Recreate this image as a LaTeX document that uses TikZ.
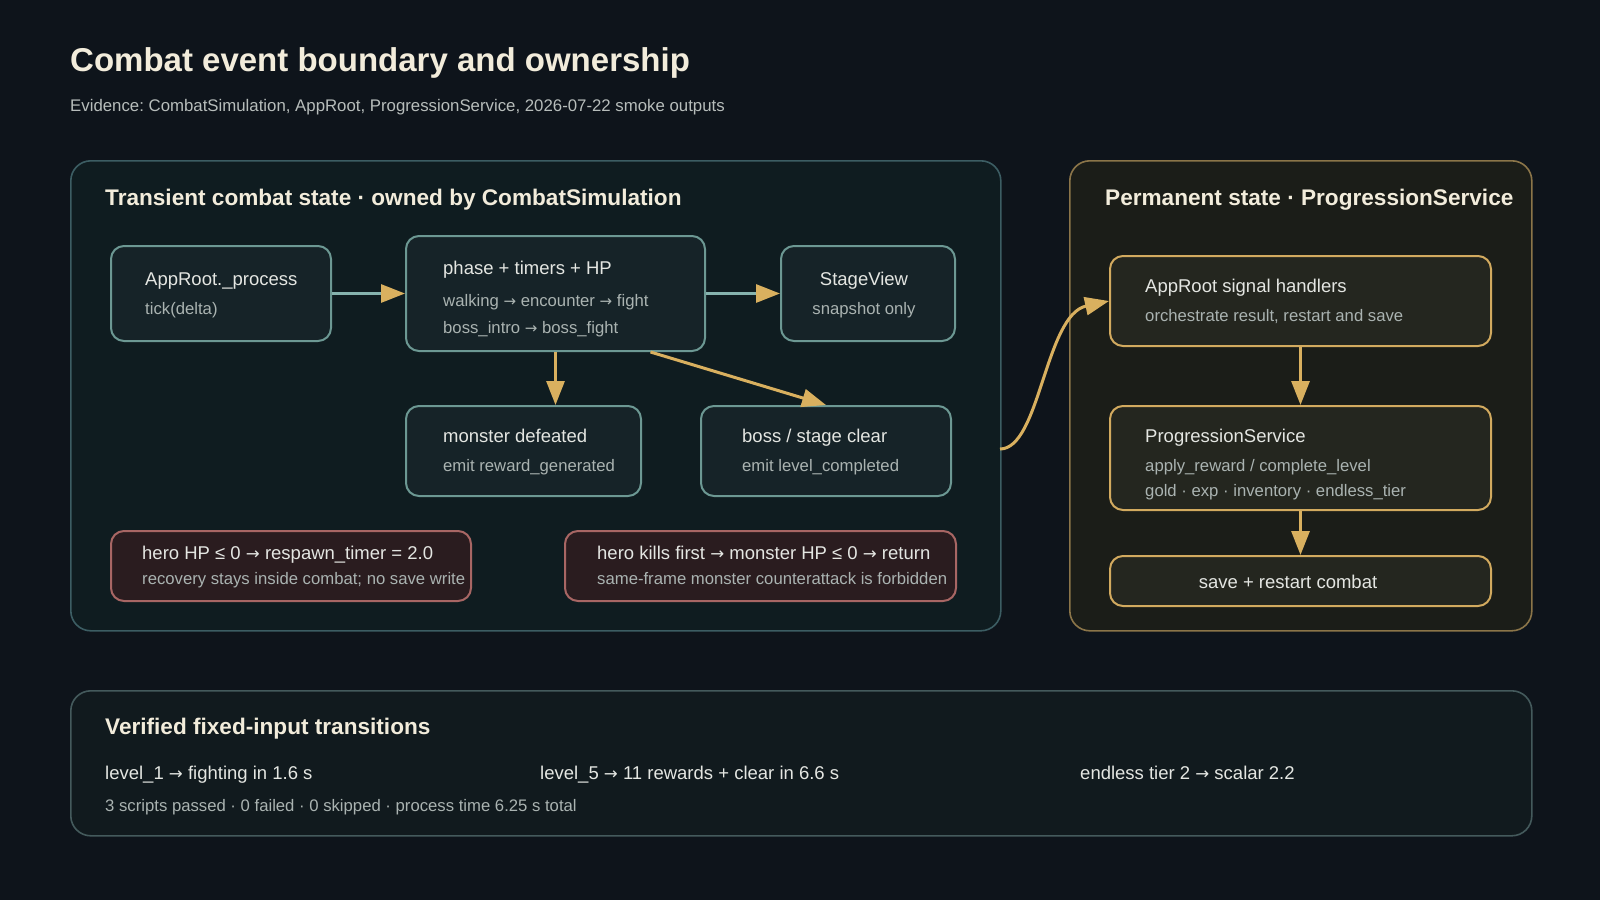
\documentclass[tikz,border=0pt]{standalone}
\usepackage{fontspec}
\setmainfont{Liberation Sans}
\newfontfamily\symf{DejaVu Sans}[Scale=0.9]
\newcommand{\ra}{{\symf →}}
\frenchspacing
\usetikzlibrary{arrows.meta,calc}
\definecolor{bg}{HTML}{0E141B}
\definecolor{lpfill}{HTML}{0F1C20}
\definecolor{lpdraw}{HTML}{3C5D63}
\definecolor{nfill}{HTML}{162328}
\definecolor{ndraw}{HTML}{6C9893}
\definecolor{teal}{HTML}{86B3AE}
\definecolor{gold}{HTML}{D9B05F}
\definecolor{rpfill}{HTML}{1B1D18}
\definecolor{rpdraw}{HTML}{8B7549}
\definecolor{rnfill}{HTML}{24261F}
\definecolor{rndraw}{HTML}{D2AA5F}
\definecolor{redfill}{HTML}{2A1C1F}
\definecolor{reddraw}{HTML}{A86664}
\definecolor{bpfill}{HTML}{111A1E}
\definecolor{bpdraw}{HTML}{445A5C}
\definecolor{cream}{HTML}{F2ECDB}
\definecolor{ntext}{HTML}{E4E6E2}
\definecolor{stext}{HTML}{AAB3B1}
\definecolor{subt}{HTML}{B7BDBB}
\begin{document}
\begin{tikzpicture}[x=1pt,y=-1pt,
  panel/.style={rounded corners=20pt,line width=1.6pt,inner sep=0pt,anchor=north west},
  lbox/.style={rounded corners=13pt,draw=ndraw,fill=nfill,line width=2pt,inner sep=0pt,anchor=north west},
  rbox/.style={rounded corners=13pt,draw=rndraw,fill=rnfill,line width=2pt,inner sep=0pt,anchor=north west},
  redbox/.style={rounded corners=13pt,draw=reddraw,fill=redfill,line width=2pt,inner sep=0pt,anchor=north west},
  ttl/.style={anchor=base west,inner sep=0pt,text=ntext,font=\fontsize{18.5}{22}\selectfont},
  sub/.style={anchor=base west,inner sep=0pt,text=stext,font=\fontsize{16.7}{20}\selectfont},
  ptitle/.style={anchor=base west,inner sep=0pt,text=cream,font=\fontsize{22.6}{26}\selectfont\bfseries},
  tealline/.style={draw=teal,line width=3pt,-{Triangle[length=24pt,width=18pt,fill=gold,color=gold]}},
  goldline/.style={draw=gold,line width=3pt,-{Triangle[length=24pt,width=18pt]}},
]
\fill[bg] (0,0) rectangle (1600,900);
\useasboundingbox (0,0) rectangle (1600,900);

% heading
\node[anchor=base west,inner sep=0pt,text=cream,font=\fontsize{33}{38}\selectfont\bfseries] (title) at (70,71) {Combat event boundary and ownership};
\node[anchor=base west,inner sep=0pt,text=subt,font=\fontsize{16.8}{20}\selectfont] (subtitle) at (70,111) {Evidence: CombatSimulation, AppRoot, ProgressionService, 2026-07-22 smoke outputs};

% panels
\node[panel,draw=lpdraw,fill=lpfill,minimum width=930pt,minimum height=470pt] (lp) at (70,160) {};
\node[panel,draw=rpdraw,fill=rpfill,minimum width=462pt,minimum height=470pt] (rp) at (1069,160) {};
\node[panel,draw=bpdraw,fill=bpfill,minimum width=1461pt,minimum height=145pt] (bp) at (70,690) {};

\node[ptitle] (lpt) at (105,205) {Transient combat state · owned by CombatSimulation};
\node[ptitle] (rpt) at (1105,205) {Permanent state · ProgressionService};

% left nodes
\node[lbox,minimum width=220pt,minimum height=95pt] (approot) at (110,245) {};
\node[ttl] (approot-t) at (145,285) {AppRoot.\_process};
\node[sub] (approot-s) at (145,314) {tick(delta)};

\node[lbox,minimum width=299pt,minimum height=115pt] (phase) at (405,235) {};
\node[ttl] (phase-t) at (443,274.5) {phase + timers + HP};
\node[sub] (phase-s1) at (443,306) {walking \ra{} encounter \ra{} fight};
\node[sub] (phase-s2) at (443,333) {boss\_intro \ra{} boss\_fight};

\node[lbox,minimum width=174pt,minimum height=95pt] (stage) at (780,245) {};
\node[ttl,anchor=base] (stage-t) at (864,285) {StageView};
\node[sub,anchor=base] (stage-s) at (864,314) {snapshot only};

\node[lbox,minimum width=235pt,minimum height=90pt] (monster) at (405,405) {};
\node[ttl] (monster-t) at (443,442) {monster defeated};
\node[sub] (monster-s) at (443,471) {emit reward\_generated};

\node[lbox,minimum width=250pt,minimum height=90pt] (boss) at (700,405) {};
\node[ttl] (boss-t) at (742,442) {boss / stage clear};
\node[sub] (boss-s) at (742,471) {emit level\_completed};

\node[redbox,minimum width=360pt,minimum height=70pt] (red1) at (110,530) {};
\node[ttl] (red1-t) at (142,559) {hero HP ≤ 0 \ra{} respawn\_timer = 2.0};
\node[sub] (red1-s) at (142,584) {recovery stays inside combat; no save write};

\node[redbox,minimum width=391pt,minimum height=70pt] (red2) at (564,530) {};
\node[ttl] (red2-t) at (597,559) {hero kills first \ra{} monster HP ≤ 0 \ra{} return};
\node[sub] (red2-s) at (597,584) {same-frame monster counterattack is forbidden};

% right nodes
\node[rbox,minimum width=381pt,minimum height=90pt] (signal) at (1109,255) {};
\node[ttl] (signal-t) at (1145,292) {AppRoot signal handlers};
\node[sub] (signal-s) at (1145,321) {orchestrate result, restart and save};

\node[rbox,minimum width=381pt,minimum height=104pt] (prog) at (1109,405) {};
\node[ttl] (prog-t) at (1145,442) {ProgressionService};
\node[sub] (prog-s1) at (1145,471) {apply\_reward / complete\_level};
\node[sub] (prog-s2) at (1145,496) {gold · exp · inventory · endless\_tier};

\node[rbox,minimum width=381pt,minimum height=50pt] (save) at (1109,555) {};
\node[ttl,anchor=base] (save-t) at (1288,588) {save + restart combat};

% bottom panel
\node[ptitle] (bpt) at (105,734) {Verified fixed-input transitions};
\node[ttl] (b1) at (105,779.5) {level\_1 \ra{} fighting in 1.6 s};
\node[ttl] (b2) at (540,779.5) {level\_5 \ra{} 11 rewards + clear in 6.6 s};
\node[ttl] (b3) at (1080,779.5) {endless tier 2 \ra{} scalar 2.2};
\node[sub] (b4) at (105,811) {3 scripts passed · 0 failed · 0 skipped · process time 6.25 s total};

% connectors
\draw[tealline] (approot.east) -- (phase.west);
\draw[tealline] (phase.east) -- (stage.west);
\draw[goldline] (phase.south) -- (phase.south |- monster.north);
\draw[goldline] ([xshift=95pt]phase.south) -- (boss.north);
\coordinate (cstart) at (1000,449);
\draw[goldline] (cstart) .. controls (1040,449) and (1045,315) .. (signal.west);
\draw[goldline] (signal.south) -- (prog.north);
\draw[goldline] (prog.south) -- (save.north);
\end{tikzpicture}
\end{document}
